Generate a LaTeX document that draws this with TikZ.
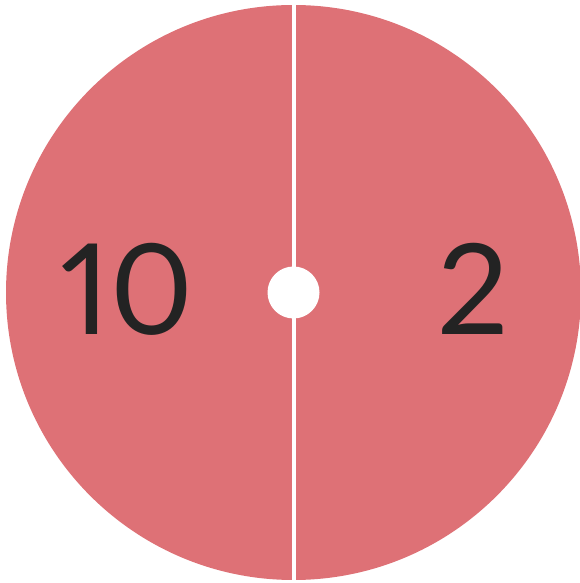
\documentclass[tikz,border=0pt]{standalone}
\usepackage{fontspec}
\setmainfont{Lato}[Numbers=Proportional]
\definecolor{dialRed}{RGB}{222, 113, 118}
\definecolor{dialInk}{RGB}{35, 35, 35}

\begin{document}
\begin{tikzpicture}[
  x=1pt, y=1pt,
  half/.style={fill=dialRed, draw=none},
  divider/.style={draw=white, line width=4pt},
  hub/.style={circle, fill=white, minimum size=52pt, inner sep=0pt},
  digit/.style={anchor=base, text=dialInk, inner sep=0pt,
    font=\fontsize{126}{126}\selectfont}
]
  \useasboundingbox (0,0) rectangle (579,583);
  \coordinate (centre) at (293.5,290.5);
  \fill[half] (centre) circle[radius=287.5];

  \coordinate (top) at (293.5,583);
  \coordinate (bottom) at (293.5,0);
  \draw[divider] (top) -- (bottom);
  \node[hub] (pin) at (centre) {};

  \node[digit] (left) at (127,248) {10};
  \node[digit] (right) at (473,248) {2};
\end{tikzpicture}
\end{document}
